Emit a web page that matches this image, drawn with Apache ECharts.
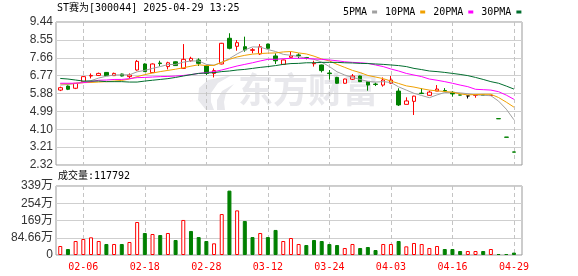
<!DOCTYPE html>
<html><head><meta charset="utf-8">
<script src="https://cdn.jsdelivr.net/npm/echarts@6/dist/echarts.min.js"></script>
<style>html,body{margin:0;padding:0;background:#fff}#c{width:578px;height:276px}</style>
</head><body><div id="c"></div>
<script>
const dates = ['01-24','01-27','02-05','02-06','02-07','02-10','02-11','02-12','02-13','02-14',
  '02-17','02-18','02-19','02-20','02-21','02-24','02-25','02-26','02-27','02-28',
  '03-03','03-04','03-05','03-06','03-07','03-10','03-11','03-12','03-13','03-14',
  '03-17','03-18','03-19','03-20','03-21','03-24','03-25','03-26','03-27','03-28',
  '03-31','04-01','04-02','04-03','04-07','04-08','04-09','04-10','04-11','04-14',
  '04-15','04-16','04-17','04-18','04-21','04-22','04-23','04-24','04-25','04-29'];
const tickDates = ['02-06','02-18','02-28','03-12','03-24','04-03','04-16','04-29'];
const open  = [6.05,6.25,6.14,6.47,6.75,6.78,6.93,6.77,6.85,6.72, 7.05,7.35,6.92,7.40,7.22,7.46,7.13,7.51,7.55,7.25,
  6.88,7.35,8.63,8.23,8.21,8.03,7.85,8.34,7.75,7.33, 7.68,7.80,7.67,7.36,7.30,6.90,6.68,6.39,6.59,6.75,
  6.47,6.35,6.30,6.39,6.00,5.34,5.49,5.90,5.79,6.00, 6.03,5.94,5.81,5.76,5.79,5.80,5.78,4.63,3.71,2.97];
const close = [6.17,6.09,6.39,6.72,6.78,6.88,6.77,6.88,6.75,6.80, 7.48,6.97,7.35,7.37,7.41,7.27,7.58,7.63,7.38,6.88,
  7.02,8.38,8.13,8.41,8.05,8.06,8.21,8.13,7.51,7.55, 7.75,7.76,7.63,7.39,7.02,6.87,6.39,6.60,6.75,6.47,
  6.30,6.33,6.55,6.55,5.31,5.51,5.75,5.88,5.95,6.10, 6.01,5.86,5.80,5.76,5.80,5.79,5.79,4.62,3.70,2.96];
const low   = [6.00,6.05,6.10,6.45,6.63,6.75,6.75,6.75,6.73,6.63, 7.02,6.95,6.90,7.25,7.08,7.25,7.10,7.46,7.25,6.80,
  6.68,7.33,8.08,8.01,7.96,7.88,7.80,8.10,7.35,7.30, 7.66,7.63,7.58,7.22,6.93,6.58,6.36,6.37,6.55,6.45,
  6.02,6.25,6.22,6.35,5.26,5.34,4.81,5.85,5.76,6.00, 5.97,5.72,5.79,5.63,5.67,5.78,5.77,4.62,3.70,2.96];
const high  = [6.22,6.28,6.40,6.75,6.88,6.92,6.95,6.92,6.87,6.88, 7.55,7.38,7.38,7.51,7.46,7.48,8.34,7.71,7.63,7.28,
  7.13,8.40,8.88,8.54,8.71,8.14,8.34,8.36,7.88,7.57, 7.96,7.88,7.70,7.51,7.32,7.05,6.71,6.62,6.85,6.77,
  6.49,6.42,6.68,6.75,6.14,5.69,5.77,6.14,6.02,6.30, 6.15,6.00,5.82,5.76,5.80,5.81,5.80,4.63,3.71,2.97];
const ma5  = [6.30,6.33,6.38,6.46,6.52,6.65,6.74,6.80,6.81,6.81, 6.96,7.03,7.13,7.22,7.32,7.33,7.44,7.50,7.50,7.33,
  7.29,7.44,7.62,7.85,8.05,8.20,8.19,8.07,7.97,7.83, 7.78,7.72,7.63,7.58,7.44,7.22,6.96,6.80,6.68,6.58,
  6.48,6.45,6.47,6.43,6.21,6.05,5.89,5.78,5.67,5.81, 5.93,5.94,5.91,5.87,5.81,5.79,5.77,5.50,5.10,4.57];
const ma10 = [6.36,6.36,6.38,6.42,6.43,6.45,6.47,6.50,6.53,6.60, 6.72,6.82,6.90,6.97,7.03,7.09,7.16,7.24,7.31,7.27,
  7.28,7.43,7.58,7.70,7.78,7.84,7.87,7.89,7.90,7.95, 7.97,7.90,7.85,7.74,7.60,7.50,7.33,7.18,7.03,6.92,
  6.78,6.70,6.62,6.50,6.38,6.26,6.20,6.12,6.05,6.01, 5.98,5.94,5.86,5.81,5.83,5.84,5.84,5.68,5.45,5.20];
const ma20 = [6.39,6.39,6.39,6.42,6.47,6.54,6.55,6.58,6.58,6.62, 6.67,6.68,6.70,6.72,6.73,6.75,6.78,6.82,6.88,6.92,
  6.97,7.05,7.15,7.25,7.33,7.41,7.50,7.58,7.58,7.61, 7.63,7.63,7.63,7.60,7.58,7.55,7.51,7.46,7.43,7.41,
  7.38,7.30,7.22,7.10,7.00,6.88,6.80,6.72,6.60,6.54, 6.47,6.39,6.30,6.22,6.09,6.07,6.05,5.97,5.80,5.59];
const ma30 = [6.63,6.60,6.55,6.50,6.50,6.50,6.47,6.47,6.47,6.45, 6.45,6.50,6.54,6.58,6.62,6.68,6.75,6.82,6.88,6.90,
  6.92,6.97,7.00,7.05,7.08,7.13,7.18,7.22,7.27,7.33, 7.37,7.38,7.41,7.41,7.43,7.43,7.43,7.41,7.40,7.38,
  7.37,7.35,7.33,7.30,7.27,7.22,7.13,7.07,7.00,6.97, 6.93,6.88,6.83,6.77,6.68,6.58,6.47,6.39,6.25,6.10];
// volume in 万 (10k lots)
const volume = [44.2,29.4,68.7,78.5,86.7,68.7,54,54,54,63.8, 162,108,103,98,108,73.6,172,118,88,68.7,
  57.3,201,316,219,167,88,108,88,123,68.7, 83.4,54,49,73.6,68.7,54,49,34.4,54,34.4,
  39.3,24.5,54,54,68.7,42.5,58.9,54,34.4,44.2, 29.4,29.4,19.6,19.6,19.6,19.6,29.4,4.9,4.9,11.78];
const volumeUp = [1,0,1,1,1,1,0,1,0,1, 1,0,1,0,1,0,1,0,0,0, 1,1,0,1,0,0,1,0,0,1,
  1,1,0,0,0,0,0,1,1,0, 0,0,1,1,0,1,1,1,1,1, 0,0,0,1,1,0,1,0,0,0];
const priceTicks = ['2.32','3.21','4.10','4.99','5.88','6.77','7.66','8.55','9.44'];
const volumeTicks = ['0','84.66万','169万','254万','339万'];
const priceMin = 2.32, priceMax = 9.44, volumeMax = 338.64;
const titleText = 'ST赛为[300044] 2025-04-29 13:25';
const lastVolume = 117792;
const maNames = ['5PMA','10PMA','20PMA','30PMA'];
const maData = [ma5, ma10, ma20, ma30];
const maColors = ['#a0a0a0','#f0a000','#ff00ff','#006e2e'];

const UP = '#ff0000', DOWN = '#008000';
const MONO = '"DejaVu Sans Mono", "Noto Sans CJK SC", monospace';
const SANS = 'Arial, "Liberation Sans", "Noto Sans CJK SC", sans-serif';
// frame grids (border + horizontal lines), data grids (category centres), date-line grids
const L = 56, W = 466;
const STEP = 7.69;                       // px per trading day
const LD = 60.25, WD = STEP * (dates.length - 1);
const firstTick = dates.indexOf(tickDates[0]);
const tickSpan = dates.indexOf(tickDates[tickDates.length - 1]) - firstTick;   // 56 days
const tickEvery = dates.indexOf(tickDates[1]) - firstTick;                     // 8 days
const LV = LD + STEP * firstTick, WV = STEP * tickSpan;
const T1 = 22, H1 = 143, T2 = 186, H2 = 69;
const NONE = 'rgba(0,0,0,0)';
const showTick = (i, v) => tickDates.includes(v);

const chart = echarts.init(document.getElementById('c'), null, {renderer: 'canvas'});
const dateLineAxis = (g) => ({
  type: 'value', gridIndex: g, min: 0, max: tickSpan, interval: tickEvery,
  axisLine: {show: false}, axisTick: {show: false}, axisLabel: {show: false},
  splitLine: {show: true, lineStyle: {color: '#c4c4c4', type: [4, 3], width: 1}}
});
const option = {
  animation: false,
  textStyle: {fontFamily: SANS},
  legend: {
    left: 338, top: 2, icon: 'rect', itemWidth: 5, itemHeight: 3, itemGap: 8, align: 'right',
    selectedMode: false, data: maNames,
    textStyle: {fontFamily: MONO, fontSize: 10, color: '#000'}
  },
  graphic: [
    {type: 'text', left: 57, top: 3, style: {text: titleText, font: '10px ' + MONO, fill: '#000'}},
    {type: 'text', left: 58, top: 171, style: {text: '成交量:' + lastVolume, font: '10px ' + MONO, fill: '#000'}},
    {type: 'polygon', z: -1, shape: {points: [[206,110],[198,100],[199,88],[208,80],[232,75],[218,83],[211,93],[211,102],[214,110]]},
      style: {fill: '#e8e8ec'}},
    {type: 'polygon', z: -1, shape: {points: [[217,110],[217,100],[222,91],[234,84],[226,93],[224,102],[225,110]]},
      style: {fill: '#e8e8ec'}},
    {type: 'text', z: -1, left: 238, top: 72, style: {text: '东方财富', font: 'bold 35px "Noto Sans CJK SC"', fill: '#e8e8ec'}}
  ],
  grid: [
    {left: LD, top: T1, width: WD, height: H1},
    {left: LD, top: T2, width: WD, height: H2},
    {left: L, top: T1, width: W, height: H1, show: true, borderColor: '#999', borderWidth: 1, backgroundColor: NONE},
    {left: L, top: T2, width: W, height: H2, show: true, borderColor: '#999', borderWidth: 1, backgroundColor: NONE},
    {left: LV, top: T1, width: WV, height: H1},
    {left: LV, top: T2, width: WV, height: H2}
  ],
  xAxis: [
    {type: 'category', gridIndex: 0, data: dates, boundaryGap: false, show: false},
    {type: 'category', gridIndex: 1, data: dates, boundaryGap: false,
      axisLine: {show: false}, axisTick: {show: false}, splitLine: {show: false},
      axisLabel: {interval: showTick, color: UP, fontFamily: MONO, fontSize: 10, margin: 7}},
    {type: 'value', gridIndex: 2, min: 0, max: 1, show: false},
    {type: 'value', gridIndex: 3, min: 0, max: 1, show: false},
    dateLineAxis(4),
    dateLineAxis(5)
  ],
  yAxis: [
    {type: 'value', gridIndex: 0, min: priceMin, max: priceMax, show: false},
    {type: 'value', gridIndex: 1, min: 0, max: volumeMax, show: false},
    {type: 'value', gridIndex: 2, min: 0, max: priceTicks.length - 1, interval: 1,
      axisLine: {show: false}, axisTick: {show: false},
      splitLine: {lineStyle: {color: '#cfcfcf', width: 1}},
      axisLabel: {formatter: v => priceTicks[Math.round(v)], color: '#333', fontSize: 12, margin: 3, fontFamily: SANS}},
    {type: 'value', gridIndex: 3, min: 0, max: volumeTicks.length - 1, interval: 1,
      axisLine: {show: false}, axisTick: {show: false},
      splitLine: {lineStyle: {color: '#cfcfcf', width: 1}},
      axisLabel: {formatter: v => volumeTicks[Math.round(v)], color: '#333', fontSize: 12, margin: 3, fontFamily: SANS}},
    {type: 'value', gridIndex: 4, min: 0, max: 1, show: false},
    {type: 'value', gridIndex: 5, min: 0, max: 1, show: false}
  ],
  series: [
    {type: 'candlestick', name: 'K', xAxisIndex: 0, yAxisIndex: 0, barWidth: 4, clip: false,
      data: open.map((o, i) => [o, close[i], low[i], high[i]]),
      itemStyle: {color: '#fff', color0: DOWN, borderColor: UP, borderColor0: DOWN, borderColorDoji: '#000', borderWidth: 1}},
    ...maNames.map((n, k) => ({
      type: 'line', name: n, xAxisIndex: 0, yAxisIndex: 0, data: maData[k], clip: false,
      symbol: 'none', showSymbol: false, color: maColors[k],
      lineStyle: {width: 1, color: maColors[k]}, z: 3
    })),
    {type: 'bar', name: 'VOL', xAxisIndex: 1, yAxisIndex: 1, barWidth: 4, clip: false,
      data: volume.map((v, i) => ({value: v, itemStyle: volumeUp[i]
        ? {color: '#fff', borderColor: UP, borderWidth: 1}
        : {color: DOWN, borderColor: DOWN, borderWidth: 1}}))}
  ]
};
chart.setOption(option);
</script></body></html>
